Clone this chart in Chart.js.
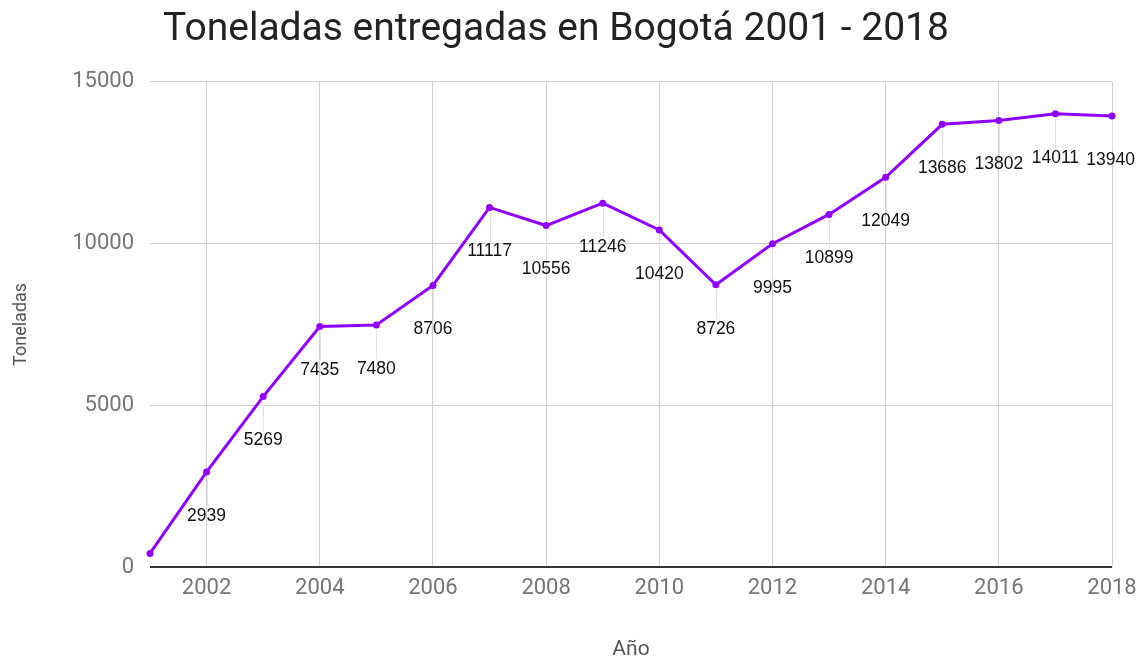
<!DOCTYPE html>
<html><head><meta charset="utf-8">
<script src="https://cdn.jsdelivr.net/npm/chart.js@4"></script>
<style>html,body{margin:0;padding:0;background:#fff}#wrap{width:1141px;height:662px}</style>
</head><body><div id="wrap"><canvas id="c"></canvas></div>
<script>
// Toneladas entregadas en Bogotá, 2001-2018
const years = ["2001","2002","2003","2004","2005","2006","2007","2008","2009","2010","2011","2012","2013","2014","2015","2016","2017","2018"];
const tons = [420, 2939, 5269, 7435, 7480, 8706, 11117, 10556, 11246, 10420, 8726, 9995, 10899, 12049, 13686, 13802, 14011, 13940];
const yTicks = [0, 5000, 10000, 15000];
const PURPLE = "#9000ff";

// value labels below each point with a thin leader line (first point unlabelled)
const pointLabels = {
  id: "pointLabels",
  afterDatasetsDraw(chart) {
    const {ctx} = chart;
    const meta = chart.getDatasetMeta(0);
    ctx.save();
    ctx.font = "17.5px 'Liberation Sans', Arial, sans-serif";
    ctx.textAlign = "center"; ctx.textBaseline = "middle";
    meta.data.forEach((p, i) => {
      if (i === 0) return;
      const v = String(tons[i]);
      const w = ctx.measureText(v).width;
      let x = Math.min(p.x, chart.width - 6 - w / 2);
      ctx.strokeStyle = "#e2e2e2"; ctx.lineWidth = 1;
      ctx.beginPath(); ctx.moveTo(Math.round(p.x) + .5, p.y + 5); ctx.lineTo(Math.round(p.x) + .5, p.y + 34); ctx.stroke();
      ctx.fillStyle = "#111";
      ctx.fillText(v, x, p.y + 44);
    });
    ctx.restore();
  }
};

new Chart(document.getElementById("c"), {
  type: "line",
  data: {labels: years, datasets: [{
    data: tons, borderColor: PURPLE, backgroundColor: PURPLE, borderWidth: 3,
    pointRadius: 3.5, pointBackgroundColor: PURPLE, pointBorderWidth: 0, tension: 0
  }]},
  options: {
    responsive: true, maintainAspectRatio: false, animation: false,
    layout: {padding: {right: 29, top: 0, bottom: 0, left: 0}},
    plugins: {
      legend: {display: false}, tooltip: {enabled: false},
      title: {display: true, text: "Toneladas entregadas en Bogotá 2001 - 2018",
        color: "#222", font: {family: "Roboto", size: 39, weight: "normal"},
        padding: {top: 7, bottom: 28}}
    },
    scales: {
      x: {
        offset: false,
        grid: {color: c => (c.index % 2 === 1 ? "#d0d0d0" : "rgba(0,0,0,0)"), drawTicks: false},
        border: {display: false},
        ticks: {color: "#757575", font: {family: "Roboto", size: 22}, padding: 8, maxRotation: 0, autoSkip: false,
          callback: (v, i) => (i % 2 === 1 ? years[i] : "")},
        title: {display: true, text: "Año", color: "#555", font: {family: "Roboto", size: 21}, padding: {top: 28, bottom: 0}},
        afterFit: s => { s.height = 95; s.paddingLeft = 0; s.paddingRight = 0; }
      },
      y: {
        min: 0, max: 15000,
        afterBuildTicks: s => { s.ticks = yTicks.map(v => ({value: v})); },
        grid: {color: c => (c.tick.value === 0 ? "#333" : "#d0d0d0"), lineWidth: c => (c.tick.value === 0 ? 2 : 1), drawTicks: false},
        border: {display: false},
        ticks: {color: "#757575", font: {family: "Roboto", size: 22}, padding: 16, callback: v => String(v)},
        title: {display: true, text: "Toneladas", color: "#555", font: {family: "Roboto", size: 18}, padding: {top: 11, bottom: 0}},
        afterFit: s => { s.width = 150; }
      }
    }
  },
  plugins: [pointLabels]
});
</script></body></html>
